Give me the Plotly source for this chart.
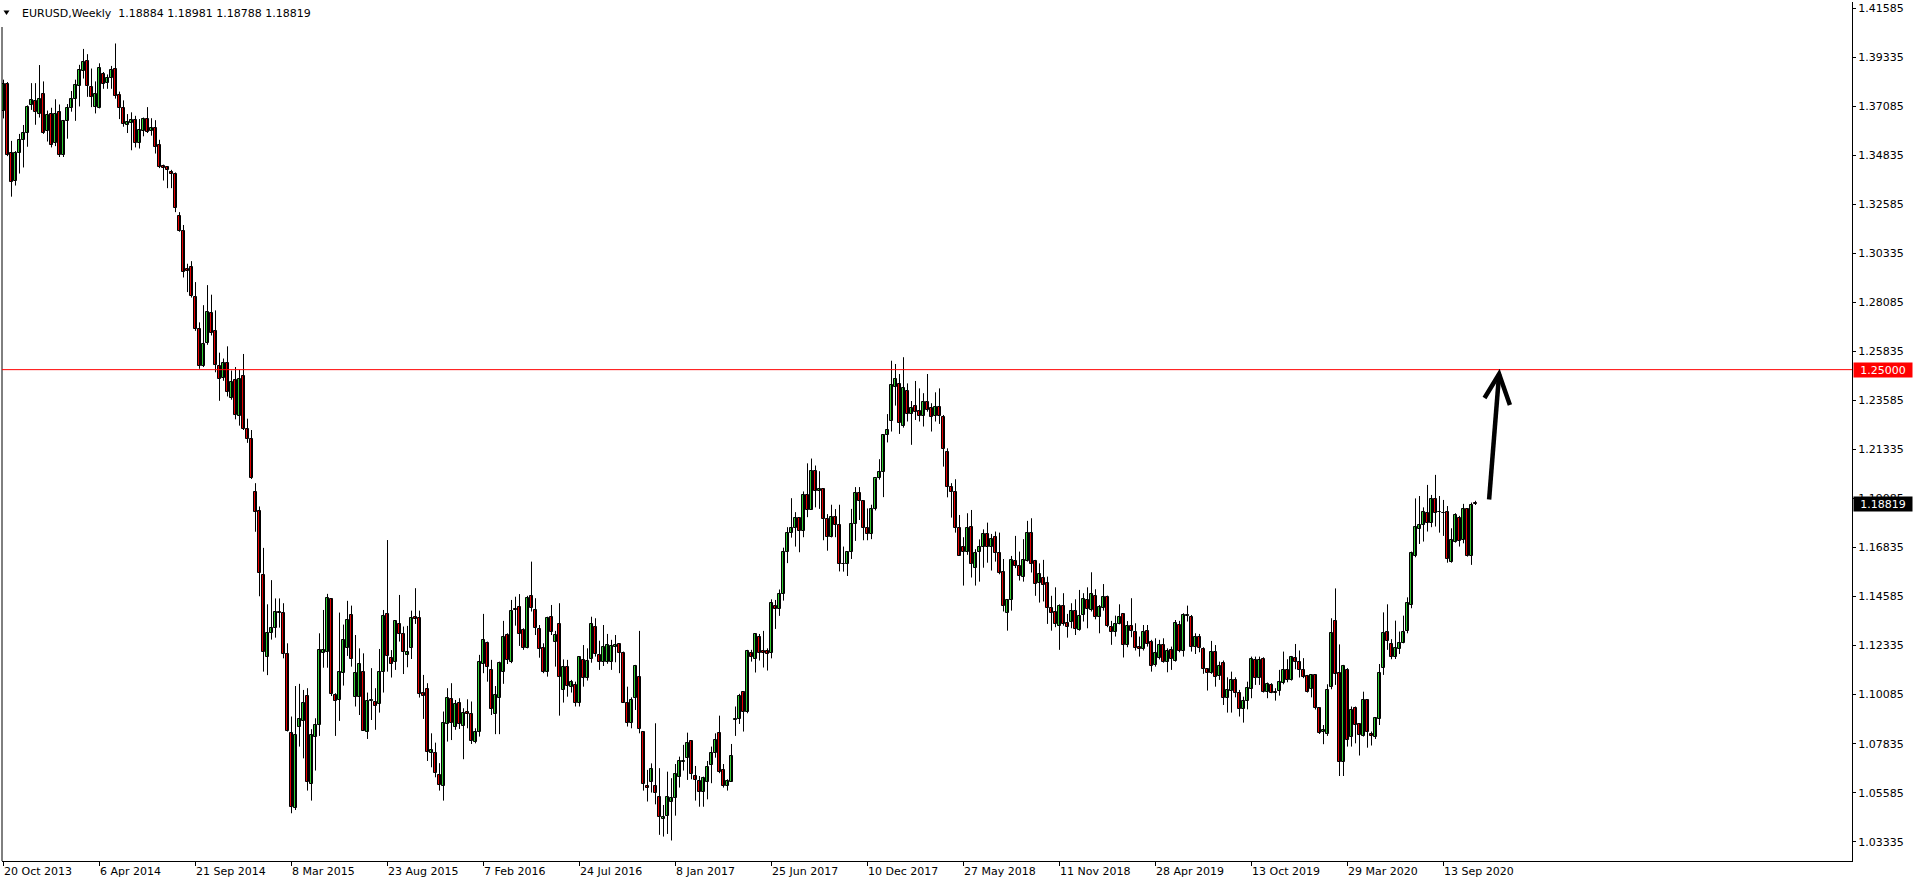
import plotly.graph_objects as go

# ---------------- data (weekly EURUSD, bars) ----------------
opens = [
1.3686,1.3811,1.3495,1.3364,1.3496,1.3552,1.3585,1.3713,1.3732,1.3672,
1.3765,1.3594,1.3673,1.3539,1.3681,1.3487,1.3640,1.3702,1.3741,1.3801,
1.3872,1.3915,1.3798,1.3706,1.3699,1.3857,1.3815,1.3839,1.3879,1.3760,
1.3700,1.3624,1.3634,1.3646,1.3542,1.3597,1.3650,1.3597,1.3607,1.3529,
1.3433,1.3428,1.3408,1.3397,1.3204,1.3136,1.2962,1.2970,1.2834,1.2686,
1.2515,1.2622,1.2760,1.2676,1.2515,1.2464,1.2531,1.2369,1.2452,1.2286,
1.2469,1.2227,1.2180,1.1938,1.1851,1.1556,1.1180,1.1291,1.1315,1.1388,
1.1381,1.1197,1.0831,1.0487,1.0859,1.0889,1.1002,1.0597,1.0816,1.0868,
1.1198,1.1203,1.1448,1.1007,1.0984,1.1107,1.1221,1.1374,1.0996,1.0996,
1.1111,1.0836,1.0977,1.0974,1.0966,1.1114,1.1377,1.1178,1.1160,1.1331,
1.1286,1.1191,1.1221,1.1364,1.1359,1.1015,1.1033,1.0739,1.0739,1.0640,
1.0591,1.0872,1.0989,1.0859,1.0969,1.0866,1.0928,1.0918,1.0793,1.0836,
1.1148,1.1244,1.1122,1.0918,1.0992,1.1114,1.1282,1.1160,1.1403,1.1409,
1.1306,1.1221,1.1463,1.1397,1.1308,1.1221,1.1114,1.1366,1.1252,1.1331,
1.1030,1.1134,1.1045,1.1053,1.0969,1.1168,1.1087,1.1171,1.1318,1.1191,
1.1160,1.1156,1.1156,1.1229,1.1240,1.1198,1.0969,1.0880,1.0992,1.1088,
1.0839,1.0591,1.0606,1.0591,1.0537,1.0436,1.0453,1.0514,1.0533,1.0629,
1.0698,1.0716,1.0796,1.0635,1.0612,1.0563,1.0606,1.0686,1.0739,1.0831,
1.0663,1.0591,1.0609,1.0892,1.0895,1.1019,1.0931,1.1198,1.1171,1.1272,
1.1209,1.1209,1.1198,1.1417,1.1400,1.1469,1.1665,1.1751,1.1775,1.1821,
1.1761,1.1925,1.1858,1.2035,1.1942,1.1950,1.1814,1.1731,1.1822,1.1786,
1.1606,1.1608,1.1664,1.1792,1.1933,1.1895,1.1771,1.1748,1.1860,1.2005,
1.2029,1.2200,1.2266,1.2422,1.2433,1.2243,1.2404,1.2295,1.2335,1.2312,
1.2289,1.2353,1.2323,1.2288,1.2327,1.2281,1.2124,1.1960,1.1940,1.1772,
1.1685,1.1662,1.1776,1.1589,1.1665,1.1688,1.1745,1.1685,1.1731,1.1657,
1.1570,1.1382,1.1443,1.1622,1.1599,1.1550,1.1622,1.1749,1.1622,1.1523,
1.1543,1.1520,1.1405,1.1390,1.1325,1.1413,1.1339,1.1344,1.1394,1.1306,
1.1374,1.1443,1.1397,1.1459,1.1364,1.1405,1.1455,1.1321,1.1295,1.1331,
1.1379,1.1234,1.1325,1.1298,1.1229,1.1217,1.1302,1.1249,1.1145,1.1175,
1.1237,1.1160,1.1214,1.1165,1.1328,1.1211,1.1370,1.1364,1.1226,1.1272,
1.1217,1.1125,1.1106,1.1203,1.1094,1.1152,1.0992,1.1027,1.1076,1.1015,
1.0941,1.0981,1.1033,1.1168,1.1084,1.1171,1.1022,1.1053,1.1019,1.1025,
1.1060,1.1122,1.1076,1.1176,1.1156,1.1122,1.1094,1.1033,1.1099,1.0946,
1.0836,1.0827,1.1045,1.1347,1.1110,1.0698,1.1122,1.0813,1.0946,1.0872,
1.0819,1.0984,1.0827,1.0813,1.0895,1.1129,1.1298,1.1239,1.1183,1.1217,
1.1244,1.1302,1.1420,1.1645,1.1769,1.1787,1.1841,1.1795,1.1905,1.1845,
1.1843,1.1845,1.1619,1.1711,1.1821,1.1718,1.1859,1.1645,1.18884]

highs = [
1.3831,1.3820,1.3550,1.3503,1.3582,1.3623,1.3713,1.3815,1.3815,1.3898,
1.3823,1.3689,1.3702,1.3741,1.3717,1.3646,1.3719,1.3779,1.3831,1.3899,
1.3972,1.3948,1.3882,1.3823,1.3906,1.3866,1.3855,1.3894,1.3997,1.3776,
1.3736,1.3673,1.3681,1.3665,1.3650,1.3657,1.3705,1.3654,1.3645,1.3555,
1.3441,1.3433,1.3417,1.3405,1.3223,1.3164,1.2986,1.2998,1.2902,1.2717,
1.2796,1.2888,1.2844,1.2772,1.2578,1.2551,1.2607,1.2496,1.2512,1.2499,
1.2572,1.2275,1.2223,1.1979,1.1872,1.1682,1.1423,1.1534,1.1450,1.1450,
1.1428,1.1244,1.0908,1.1048,1.1058,1.1030,1.1038,1.0850,1.0900,1.1290,
1.1397,1.1471,1.1448,1.1015,1.1385,1.1330,1.1439,1.1417,1.1282,1.1221,
1.1198,1.1018,1.1130,1.1038,1.1218,1.1397,1.1718,1.1213,1.1351,1.1466,
1.1321,1.1324,1.1394,1.1497,1.1394,1.1099,1.1061,1.0831,1.0788,1.0694,
1.0931,1.1038,1.1061,1.0984,1.0992,1.0946,1.0987,1.0977,1.0854,1.1191,
1.1379,1.1252,1.1168,1.1048,1.1160,1.1347,1.1290,1.1443,1.1458,1.1470,
1.1313,1.1462,1.1619,1.1451,1.1328,1.1244,1.1366,1.1420,1.1301,1.1428,
1.1170,1.1168,1.1076,1.1068,1.1183,1.1236,1.1221,1.1366,1.1359,1.1256,
1.1328,1.1287,1.1260,1.1282,1.1244,1.1206,1.1045,1.0996,1.1145,1.1301,
1.0839,1.0663,1.0693,1.0877,1.0671,1.0502,1.0655,1.0625,1.0690,1.0724,
1.0778,1.0834,1.0796,1.0681,1.0635,1.0632,1.0704,1.0770,1.0831,1.0912,
1.0690,1.0620,1.0782,1.0954,1.1012,1.1019,1.1214,1.1214,1.1287,1.1287,
1.1301,1.1221,1.1446,1.1443,1.1491,1.1683,1.1777,1.1910,1.1846,1.1822,
1.1941,1.2070,1.2092,1.2060,1.2034,1.1954,1.1837,1.1880,1.1860,1.1880,
1.1688,1.1667,1.1861,1.1961,1.1961,1.1899,1.1863,1.1880,1.2000,1.2089,
1.2204,1.2296,1.2541,1.2526,1.2480,1.2557,1.2437,1.2356,1.2448,1.2414,
1.2392,1.2480,1.2346,1.2396,1.2414,1.2292,1.2139,1.1979,1.1997,1.1833,
1.1731,1.1841,1.1856,1.1676,1.1721,1.1767,1.1798,1.1746,1.1757,1.1752,
1.1631,1.1446,1.1645,1.1737,1.1665,1.1722,1.1806,1.1818,1.1627,1.1611,
1.1627,1.1550,1.1462,1.1501,1.1423,1.1474,1.1379,1.1428,1.1446,1.1489,
1.1474,1.1501,1.1570,1.1492,1.1420,1.1516,1.1463,1.1347,1.1371,1.1423,
1.1382,1.1346,1.1451,1.1336,1.1275,1.1328,1.1328,1.1260,1.1267,1.1260,
1.1267,1.1221,1.1229,1.1351,1.1347,1.1382,1.1417,1.1374,1.1290,1.1287,
1.1226,1.1130,1.1255,1.1236,1.1160,1.1165,1.1088,1.1114,1.1088,1.1030,
1.0999,1.1068,1.1183,1.1183,1.1183,1.1180,1.1064,1.1061,1.1038,1.1122,
1.1206,1.1171,1.1186,1.1241,1.1211,1.1176,1.1099,1.1100,1.1103,1.0950,
1.0869,1.1056,1.1359,1.1496,1.1239,1.1145,1.1130,1.0954,1.0954,1.0877,
1.1022,1.0984,1.0839,1.0904,1.1149,1.1386,1.1423,1.1263,1.1348,1.1298,
1.1371,1.1455,1.1665,1.1909,1.1920,1.1868,1.1971,1.1925,1.2017,1.1920,
1.1902,1.1874,1.1772,1.1841,1.1829,1.1884,1.1862,1.1890,1.18981]

lows = [
1.3653,1.3480,1.3294,1.3345,1.3400,1.3428,1.3523,1.3692,1.3624,1.3657,
1.3582,1.3547,1.3520,1.3526,1.3476,1.3476,1.3560,1.3684,1.3642,1.3708,
1.3836,1.3752,1.3705,1.3676,1.3699,1.3789,1.3789,1.3789,1.3744,1.3650,
1.3615,1.3586,1.3507,1.3520,1.3515,1.3571,1.3586,1.3574,1.3492,1.3425,
1.3368,1.3333,1.3333,1.3223,1.3133,1.2923,1.2856,1.2831,1.2678,1.2504,
1.2512,1.2614,1.2657,1.2488,1.2357,1.2449,1.2377,1.2362,1.2272,1.2243,
1.2223,1.2164,1.1998,1.1756,1.1460,1.1114,1.1098,1.1261,1.1270,1.1316,
1.1175,1.0839,1.0464,1.0479,1.0770,1.0716,1.0568,1.0522,1.0660,1.0819,
1.1132,1.1132,1.1002,1.0819,1.0888,1.1050,1.1186,1.1137,1.0954,1.0915,
1.0843,1.0805,1.0892,1.0847,1.0926,1.1018,1.1114,1.1087,1.1122,1.1252,
1.1103,1.1134,1.1172,1.1333,1.0995,1.0897,1.0704,1.0675,1.0629,1.0568,
1.0522,1.0793,1.0800,1.0847,1.0851,1.0712,1.0854,1.0782,1.0785,1.0816,
1.1107,1.1068,1.0915,1.0827,1.0827,1.1058,1.1149,1.1153,1.1325,1.1232,
1.1214,1.1221,1.1390,1.1282,1.1178,1.1107,1.1091,1.1282,1.1137,1.0912,
1.0972,1.0999,1.1018,1.0954,1.0954,1.1045,1.1073,1.1155,1.1183,1.1122,
1.1140,1.1150,1.1122,1.1157,1.1107,1.0972,1.0862,1.0854,1.0938,1.0831,
1.0568,1.0518,1.0559,1.0505,1.0365,1.0357,1.0369,1.0339,1.0453,1.0582,
1.0660,1.0617,1.0620,1.0522,1.0494,1.0494,1.0528,1.0602,1.0719,1.0648,
1.0582,1.0568,1.0609,1.0819,1.0874,1.0839,1.0923,1.1160,1.1110,1.1165,
1.1133,1.1119,1.1175,1.1310,1.1370,1.1440,1.1612,1.1729,1.1688,1.1662,
1.1731,1.1823,1.1857,1.1868,1.1861,1.1717,1.1669,1.1730,1.1731,1.1574,
1.1573,1.1553,1.1631,1.1714,1.1810,1.1717,1.1717,1.1722,1.1854,1.1995,
1.1915,1.2166,1.2216,1.2335,1.2205,1.2234,1.2262,1.2155,1.2269,1.2262,
1.2239,1.2307,1.2216,1.2262,1.2251,1.2055,1.1914,1.1821,1.1752,1.1647,
1.1509,1.1650,1.1546,1.1509,1.1527,1.1591,1.1614,1.1578,1.1619,1.1561,
1.1390,1.1302,1.1394,1.1589,1.1532,1.1527,1.1619,1.1569,1.1462,1.1431,
1.1436,1.1333,1.1302,1.1318,1.1214,1.1325,1.1270,1.1313,1.1282,1.1302,
1.1344,1.1313,1.1390,1.1354,1.1290,1.1394,1.1318,1.1237,1.1275,1.1331,
1.1179,1.1226,1.1272,1.1211,1.1183,1.1211,1.1229,1.1114,1.1137,1.1170,
1.1155,1.1111,1.1122,1.1160,1.1203,1.1183,1.1344,1.1206,1.1195,1.1203,
1.1104,1.1027,1.1104,1.1045,1.1076,1.0961,1.0926,1.0926,1.0996,1.0908,
1.0880,1.0941,1.0992,1.1053,1.1053,1.1018,1.0992,1.1015,1.0981,1.1004,
1.1056,1.1065,1.1073,1.1125,1.1087,1.1084,1.1018,1.0996,1.0940,1.0828,
1.0781,1.0819,1.1033,1.1053,1.0635,1.0635,1.0770,1.0770,1.0785,1.0729,
1.0816,1.0765,1.0775,1.0805,1.0869,1.1099,1.1214,1.1171,1.1172,1.1195,
1.1244,1.1290,1.1405,1.1639,1.1700,1.1711,1.1757,1.1777,1.1780,1.1752,
1.1737,1.1614,1.1614,1.1706,1.1688,1.1703,1.1642,1.1604,1.18788]

closes = [
1.3811,1.3487,1.3360,1.3495,1.3553,1.3586,1.3705,1.3736,1.3681,1.3741,
1.3585,1.3668,1.3529,1.3673,1.3487,1.3640,1.3700,1.3741,1.3806,1.3876,
1.3910,1.3800,1.3752,1.3765,1.3883,1.3812,1.3839,1.3874,1.3757,1.3700,
1.3629,1.3637,1.3646,1.3542,1.3599,1.3650,1.3591,1.3609,1.3523,1.3431,
1.3424,1.3416,1.3400,1.3243,1.3136,1.2949,1.2951,1.2836,1.2686,1.2515,
1.2616,1.2765,1.2670,1.2523,1.2457,1.2531,1.2396,1.2444,1.2290,1.2457,
1.2227,1.2180,1.2003,1.1845,1.1567,1.1204,1.1291,1.1315,1.1388,1.1381,
1.1197,1.0843,1.0495,1.0823,1.0896,1.0969,1.0609,1.0823,1.0868,1.1214,
1.1214,1.1451,1.1010,1.0981,1.1111,1.1260,1.1351,1.1171,1.1107,1.1149,
1.0843,1.0977,1.0984,1.0958,1.1111,1.1369,1.1188,1.1148,1.1347,1.1286,
1.1206,1.1203,1.1359,1.1355,1.1012,1.1004,1.0744,1.0755,1.0648,1.0594,
1.0877,1.0992,1.0877,1.0966,1.0873,1.0923,1.0918,1.0797,1.0836,1.1157,
1.1259,1.1134,1.0941,1.1007,1.1152,1.1272,1.1168,1.1393,1.1397,1.1286,
1.1224,1.1451,1.1405,1.1313,1.1217,1.1114,1.1359,1.1298,1.1283,1.1088,
1.1137,1.1050,1.1068,1.0972,1.1180,1.1087,1.1163,1.1331,1.1194,1.1160,
1.1229,1.1237,1.1232,1.1237,1.1198,1.0972,1.0880,1.0984,1.1140,1.0850,
1.0597,1.0582,1.0666,1.0559,1.0449,1.0449,1.0537,1.0533,1.0643,1.0704,
1.0703,1.0785,1.0643,1.0617,1.0560,1.0625,1.0678,1.0739,1.0801,1.0652,
1.0591,1.0612,1.0727,1.0895,1.1002,1.0931,1.1209,1.1183,1.1285,1.1198,
1.1198,1.1194,1.1428,1.1402,1.1470,1.1665,1.1751,1.1775,1.1821,1.1761,
1.1925,1.1858,1.2035,1.1942,1.1950,1.1814,1.1731,1.1822,1.1786,1.1606,
1.1608,1.1664,1.1792,1.1933,1.1895,1.1771,1.1748,1.1860,1.2005,1.2029,
1.2200,1.2222,1.2430,1.2456,1.2254,1.2414,1.2295,1.2323,1.2307,1.2289,
1.2353,1.2315,1.2281,1.2330,1.2289,1.2135,1.1960,1.1940,1.1772,1.1647,
1.1662,1.1772,1.1607,1.1657,1.1685,1.1746,1.1688,1.1722,1.1657,1.1569,
1.1413,1.1443,1.1627,1.1601,1.1555,1.1627,1.1749,1.1607,1.1517,1.1563,
1.1512,1.1405,1.1385,1.1333,1.1417,1.1333,1.1321,1.1394,1.1308,1.1370,
1.1446,1.1400,1.1469,1.1364,1.1410,1.1455,1.1324,1.1295,1.1331,1.1364,
1.1234,1.1325,1.1302,1.1221,1.1217,1.1298,1.1241,1.1142,1.1201,1.1234,
1.1160,1.1209,1.1171,1.1336,1.1211,1.1374,1.1374,1.1226,1.1272,1.1221,
1.1125,1.1106,1.1203,1.1091,1.1140,1.0992,1.1030,1.1076,1.1018,1.0941,
1.0979,1.1038,1.1171,1.1084,1.1168,1.1022,1.1056,1.1018,1.1015,1.1065,
1.1122,1.1076,1.1180,1.1156,1.1122,1.1091,1.1022,1.1099,1.0946,1.0831,
1.0846,1.1030,1.1290,1.1102,1.0701,1.1140,1.0801,1.0938,1.0869,1.0821,
1.0984,1.0839,1.0819,1.0900,1.1106,1.1293,1.1256,1.1180,1.1221,1.1247,
1.1298,1.1428,1.1657,1.1776,1.1786,1.1845,1.1798,1.1905,1.1841,1.1848,
1.1840,1.1633,1.1718,1.1833,1.1715,1.1859,1.1645,1.1879,1.18819]

# time-scale labels, one every 24 weekly bars starting at bar 0
tick_bars = [0, 24, 48, 72, 96, 120, 144, 168, 192, 216, 240, 264, 288, 312, 336, 360]
tick_labels = ["20 Oct 2013", "6 Apr 2014", "21 Sep 2014", "8 Mar 2015", "23 Aug 2015",
               "7 Feb 2016", "24 Jul 2016", "8 Jan 2017", "25 Jun 2017", "10 Dec 2017",
               "27 May 2018", "11 Nov 2018", "28 Apr 2019", "13 Oct 2019", "29 Mar 2020",
               "13 Sep 2020"]

price_ticks = [1.03335, 1.05585, 1.07835, 1.10085, 1.12335, 1.14585, 1.16835, 1.19085,
               1.21335, 1.23585, 1.25835, 1.28085, 1.30335, 1.32585, 1.34835, 1.37085,
               1.39335, 1.41585]

level_line = 1.25000
title_text = "EURUSD,Weekly\u00a0\u00a01.18884 1.18981 1.18788 1.18819"
last_close = closes[-1]

# hand-drawn arrow (bar index, price): shaft tail->tip, then two wings
arrow_shaft = [(371.4, 1.19041), (373.9, 1.24801)]
arrow_wings = [(370.25, 1.23699), (373.9, 1.24801), (376.6, 1.23378)]

# ---------------- styling ----------------
UP = "#32cd32"
DN = "#e60000"
FONT = "DejaVu Sans"
W, H = 1916, 884
L, R, T, B = 2, 1852, 2, 861          # plot area in pixels
Y_MIN, Y_MAX = 1.02449, 1.41874
X_MIN = -0.375
X_MAX = X_MIN + (R - L) / 4.0         # 4 px per bar

n = len(opens)
xs = list(range(n))

# wicks
wx, wy = [], []
for i in range(n):
    wx += [i, i, None]
    wy += [lows[i], highs[i], None]

# bodies
base = [min(o, c) for o, c in zip(opens, closes)]
height = [max(abs(c - o), 0.0004) for o, c in zip(opens, closes)]
colors = [UP if c >= o else DN for o, c in zip(opens, closes)]

fig = go.Figure()
fig.add_trace(go.Scatter(x=wx, y=wy, mode="lines", line=dict(color="black", width=1),
                         hoverinfo="skip", showlegend=False))
fig.add_trace(go.Bar(x=xs, y=height, base=base, width=0.7,
                     marker=dict(color=colors, line=dict(color="black", width=1)),
                     showlegend=False, hoverinfo="skip"))

def py(p):
    return (B - p) / (B - T)

def px(p):
    return (p - L) / (R - L)

shapes = [
    # frame
    dict(type="line", xref="paper", yref="paper", x0=0, x1=0, y0=0, y1=py(27),
         line=dict(color="black", width=1)),
    # level line
    dict(type="line", xref="paper", yref="y", x0=0, x1=1, y0=level_line, y1=level_line,
         line=dict(color="#ff0000", width=1)),
    # arrow
    dict(type="line", xref="x", yref="y", x0=arrow_shaft[0][0], y0=arrow_shaft[0][1],
         x1=arrow_shaft[1][0], y1=arrow_shaft[1][1], line=dict(color="black", width=4.5)),
    dict(type="path", xref="x", yref="y",
         path="M {} {} L {} {} L {} {}".format(arrow_wings[0][0], arrow_wings[0][1],
                                               arrow_wings[1][0], arrow_wings[1][1],
                                               arrow_wings[2][0], arrow_wings[2][1]),
         line=dict(color="black", width=4.5)),
    # small triangle before the title
    dict(type="path", xref="paper", yref="paper",
         path="M {} {} L {} {} L {} {} Z".format(px(3.5), py(10.5), px(9.5), py(10.5),
                                                 px(6.5), py(15)),
         fillcolor="black", line=dict(color="black", width=0)),
]

annotations = [
    dict(xref="paper", yref="paper", x=px(20), y=py(13), xanchor="left", yanchor="middle",
         text=title_text, showarrow=False, font=dict(family=FONT, size=11, color="black")),
]
for b, lab in zip(tick_bars, tick_labels):
    annotations.append(dict(xref="x", yref="paper", x=b, y=py(871), xanchor="left",
                            yanchor="middle", text=lab, showarrow=False, xshift=-2,
                            font=dict(family=FONT, size=11, color="black")))
annotations.append(dict(xref="paper", yref="y", x=1, y=level_line, xanchor="left",
                        yanchor="middle", text="{:.5f}".format(level_line), showarrow=False,
                        bgcolor="#ff0000", font=dict(family=FONT, size=11, color="white"),
                        width=56, height=12, borderpad=1, xshift=1, align="center"))
annotations.append(dict(xref="paper", yref="y", x=1, y=last_close, xanchor="left",
                        yanchor="middle", text="{:.5f}".format(last_close), showarrow=False,
                        bgcolor="black", font=dict(family=FONT, size=11, color="white"),
                        width=56, height=12, borderpad=1, xshift=1, align="center"))

fig.update_layout(
    width=W, height=H,
    margin=dict(l=L, r=W - R, t=T, b=H - B, autoexpand=False),
    paper_bgcolor="white", plot_bgcolor="white",
    showlegend=False, bargap=0,
    shapes=shapes, annotations=annotations,
    xaxis=dict(range=[X_MIN, X_MAX], showgrid=False, zeroline=False,
               showline=True, linecolor="black", linewidth=1,
               tickvals=tick_bars, ticktext=[""] * len(tick_bars),
               ticks="outside", ticklen=4, tickcolor="black", tickwidth=1,
               fixedrange=True),
    yaxis=dict(range=[Y_MIN, Y_MAX], side="right", showgrid=False, zeroline=False,
               showline=True, linecolor="black", linewidth=1,
               tickvals=price_ticks, ticktext=["{:.5f}".format(v) for v in price_ticks],
               ticks="outside", ticklen=3, tickcolor="black", tickwidth=1,
               tickfont=dict(family=FONT, size=11, color="black"),
               fixedrange=True),
    hovermode=False,
)

fig.write_html("out.html", config={"displayModeBar": False},
               post_script="document.body.style.margin='0';document.body.style.overflow='hidden';")
